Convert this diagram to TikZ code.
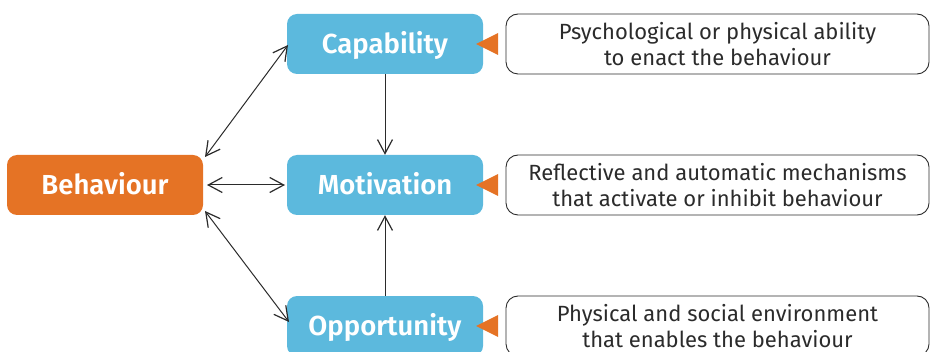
\documentclass[tikz,border=0pt]{standalone}
\usepackage{fontspec}
\setmainfont{Fira Sans}[BoldFont={Fira Sans SemiBold}]
\usetikzlibrary{arrows.meta}
\definecolor{borange}{HTML}{E57325}
\definecolor{cblue}{HTML}{5CB9DD}
\definecolor{dtext}{HTML}{2B2B2B}
\tikzset{
  mainbox/.style={rounded corners=10pt, minimum width=196pt, minimum height=60pt, inner sep=0pt,
    text height=19pt, text depth=0pt,
    text=white, font=\fontsize{27.5}{30}\selectfont\bfseries},
  combox/.style={mainbox, fill=cblue},
  behbox/.style={mainbox, fill=borange},
  descbox/.style={draw=dtext, line width=0.9pt, rounded corners=12pt, minimum width=423pt, minimum height=60pt,
    inner sep=0pt, align=center, text=dtext, font=\fontsize{22}{25.5}\selectfont},
  tri/.style={fill=borange},
  link/.style={draw=dtext, line width=1pt, {Straight Barb[length=14pt,width=15pt,line width=1.2pt]}-{Straight Barb[length=14pt,width=15pt,line width=1.2pt]}},
  onelink/.style={draw=dtext, line width=1pt, -{Straight Barb[length=14pt,width=15pt,line width=1.2pt]}}
}
\begin{document}
\begin{tikzpicture}[x=1pt,y=-1pt]
\useasboundingbox (0,0) rectangle (933,352);
\node[behbox] (beh) at (105,185) {Behaviour};
\node[combox] (cap) at (385,44) {Capability};
\node[combox] (mot) at (385,185) {Motivation};
\node[combox] (opp) at (385,326) {Opportunity};
\node[descbox] (dcap) at (717.5,44) {Psychological or physical ability\\to enact the behaviour};
\node[descbox] (dmot) at (717.5,185) {Reflective and automatic mechanisms\\that activate or inhibit behaviour};
\node[descbox] (dopp) at (717.5,326) {Physical and social environment\\that enables the behaviour};
\fill[tri] ([xshift=-7pt]cap.east) -- ++(22,-11) -- ++(0,22) -- cycle;
\fill[tri] ([xshift=-7pt]mot.east) -- ++(22,-11) -- ++(0,22) -- cycle;
\fill[tri] ([xshift=-7pt]opp.east) -- ++(22,-11) -- ++(0,22) -- cycle;
\coordinate (b1) at (205,157);
\coordinate (b2) at (207,185);
\coordinate (b3) at (205,211);
\coordinate (c1) at (288,45);
\coordinate (m1) at (285,185);
\coordinate (o1) at (289,322);
\draw[link] (b1) -- (c1);
\draw[link] (b2) -- (m1);
\draw[link] (b3) -- (o1);
\draw[onelink] (cap.south) -- (mot.north);
\draw[onelink] (opp.north) -- (mot.south);
\end{tikzpicture}
\end{document}
